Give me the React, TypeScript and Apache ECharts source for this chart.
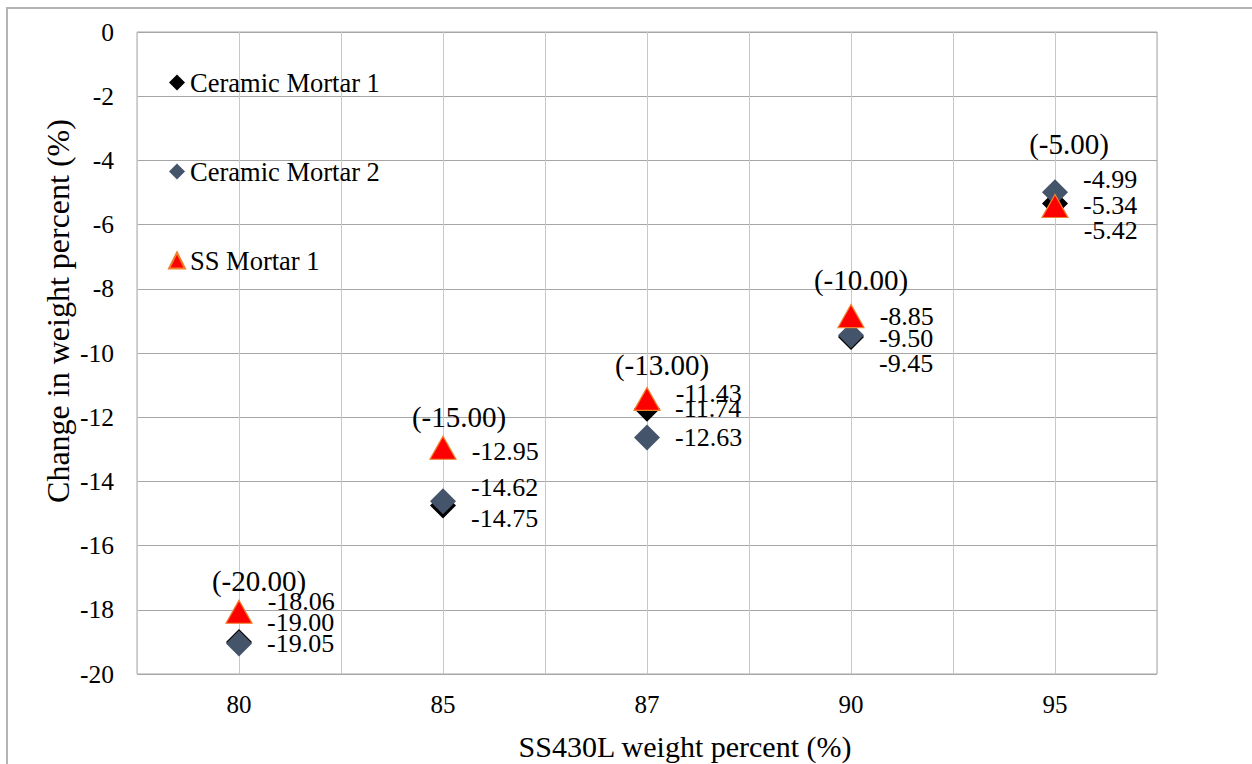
import React, { useEffect, useRef } from "react";
import * as echarts from "echarts";

// SS430L content of each mix (%), one slot per category on the x axis
const weightPercent = ["80", "85", "87", "90", "95"];

// Measured change in weight (%)
const ceramicMortar1 = [-19.0, -14.75, -11.74, -9.5, -5.34];
const ceramicMortar2 = [-19.05, -14.62, -12.63, -9.45, -4.99];
const ssMortar1 = [-18.06, -12.95, -11.43, -8.85, -5.42];

// Expected change in weight (%), shown in brackets above each group
const expectedChange = [-20, -15, -13, -10, -5];

// Y axis ticks
const yMin = -20;
const yMax = 0;
const yStep = 2;

// Label nudges (px) so the stacked value labels don't collide
const cm1LabelDy = [-19, 13, 0, 2, 2];
const cm2LabelDy = [0, -14, 0, 28, -13];
const ssLabelDy = [-10, 4, -5, 0, 25];
const expectedLabelOffset = [
  [20, -31],
  [16, -31],
  [15, -34],
  [10, -36],
  [14, -48],
];

const FONT = "'Liberation Serif', 'Times New Roman', serif";

// x position of a category slot centre on the 0..10 half-slot scale
const slotX = (i: number) => 2 * i + 1;

function pointsWithLabels(values: number[], dy: number[]) {
  return values.map((v, i) => ({
    value: [slotX(i), v],
    label: { offset: [0, dy[i]] },
  }));
}

export default function App() {
  const ref = useRef<HTMLDivElement>(null);

  useEffect(() => {
    if (!ref.current) return;
    const chart = echarts.init(ref.current, null, { renderer: "svg" });

    const dataLabel = {
      show: true,
      position: "right",
      distance: 15,
      fontFamily: FONT,
      fontSize: 26,
      color: "#000",
      formatter: (p: any) => p.value[1].toFixed(2),
    };

    const groupTop = weightPercent.map((_, i) =>
      Math.max(ceramicMortar1[i], ceramicMortar2[i], ssMortar1[i])
    );

    const option = {
      animation: false,
      textStyle: { fontFamily: FONT },
      grid: {
        left: 129,
        top: 23,
        width: 1020,
        height: 642,
        show: true,
        borderColor: "#A6A6A6",
        borderWidth: 1,
      },
      legend: {
        orient: "vertical",
        left: 155,
        top: 55,
        itemWidth: 16,
        itemHeight: 16,
        itemGap: 62,
        selectedMode: false,
        data: ["Ceramic Mortar 1", "Ceramic Mortar 2", "SS Mortar 1"],
        textStyle: {
          fontFamily: FONT,
          fontSize: 26.5,
          lineHeight: 27,
          color: "#000",
        },
      },
      xAxis: {
        type: "value",
        min: 0,
        max: 2 * weightPercent.length,
        interval: 1,
        axisLine: { show: false },
        axisTick: { show: false },
        splitLine: { show: true, lineStyle: { color: "#C8C8C8", width: 1 } },
        axisLabel: {
          margin: 18,
          fontFamily: FONT,
          fontSize: 25,
          color: "#000",
          showMinLabel: true,
          showMaxLabel: true,
          formatter: (v: number) =>
            v % 2 === 1 ? weightPercent[(v - 1) / 2] : "",
        },
      },
      yAxis: {
        type: "value",
        min: yMin,
        max: yMax,
        interval: yStep,
        axisLine: { show: false },
        axisTick: { show: false },
        splitLine: { show: true, lineStyle: { color: "#A6A6A6", width: 1 } },
        axisLabel: {
          margin: 23,
          fontFamily: FONT,
          fontSize: 25.5,
          color: "#000",
        },
      },
      series: [
        {
          name: "Ceramic Mortar 1",
          type: "scatter",
          symbol: "diamond",
          symbolSize: 26,
          itemStyle: { color: "#000000", opacity: 1 },
          label: dataLabel,
          data: pointsWithLabels(ceramicMortar1, cm1LabelDy),
        },
        {
          name: "Ceramic Mortar 2",
          type: "scatter",
          symbol: "diamond",
          symbolSize: 26,
          itemStyle: { color: "#44546A", opacity: 1 },
          label: dataLabel,
          data: pointsWithLabels(ceramicMortar2, cm2LabelDy),
        },
        {
          name: "SS Mortar 1",
          type: "scatter",
          symbol: "triangle",
          symbolSize: [26, 23],
          itemStyle: {
            color: "#FF0000",
            borderColor: "#F0802A",
            borderWidth: 1.2,
            opacity: 1,
          },
          label: dataLabel,
          data: pointsWithLabels(ssMortar1, ssLabelDy),
        },
        {
          name: "Expected",
          type: "scatter",
          symbolSize: 1,
          itemStyle: { color: "#ffffff", opacity: 0 },
          silent: true,
          label: {
            show: true,
            position: "inside",
            fontFamily: FONT,
            fontSize: 29,
            color: "#000",
            textBorderWidth: 0,
            opacity: 1,
          },
          data: groupTop.map((top, i) => ({
            value: [slotX(i), top],
            label: {
              offset: expectedLabelOffset[i],
              formatter: `(${expectedChange[i].toFixed(2)})`,
            },
          })),
        },
      ],
      graphic: [
        {
          type: "text",
          x: 677,
          y: 737,
          style: {
            text: "SS430L weight percent (%)",
            font: `30px ${FONT}`,
            fill: "#000",
            align: "center",
            verticalAlign: "middle",
          },
        },
        {
          type: "text",
          x: 50,
          y: 302,
          rotation: Math.PI / 2,
          style: {
            text: "Change in weight percent (%)",
            font: `32px ${FONT}`,
            fill: "#000",
            align: "center",
            verticalAlign: "middle",
          },
        },
      ],
    };

    chart.setOption(option as any);
    return () => chart.dispose();
  }, []);

  return (
    <div
      style={{
        position: "absolute",
        left: 6,
        top: 7,
        width: 1244,
        height: 755,
        borderLeft: "2px solid #B4B4B4",
        borderTop: "2px solid #B4B4B4",
        background: "#fff",
      }}
    >
      <div ref={ref} style={{ width: 1244, height: 755 }} />
    </div>
  );
}
